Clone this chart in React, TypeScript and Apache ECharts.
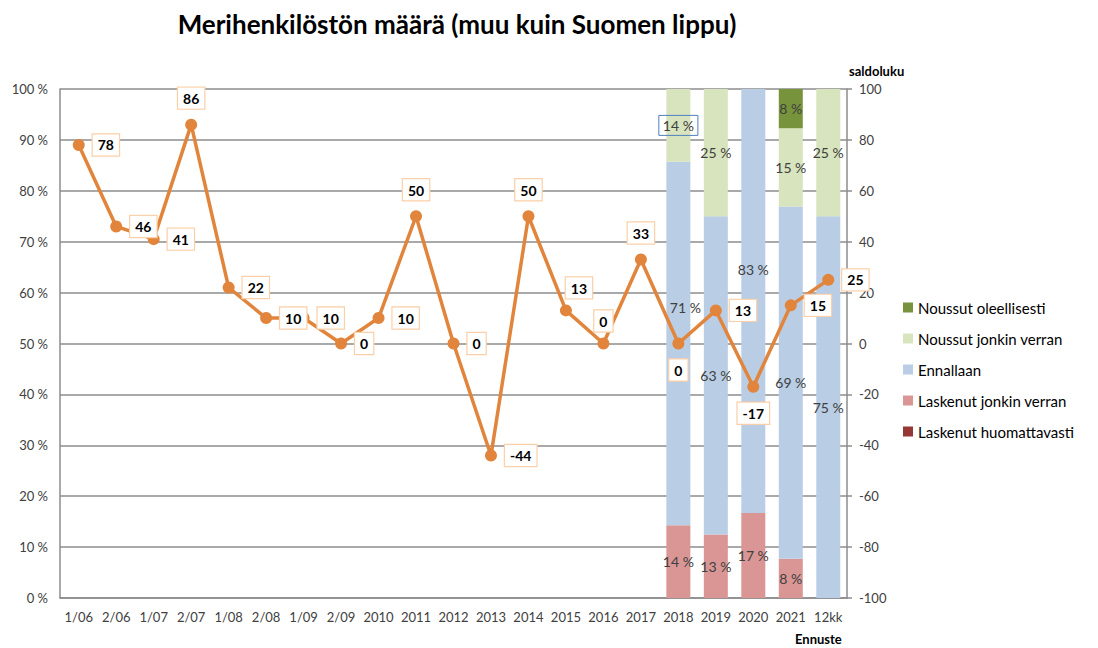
import React, { useEffect, useRef } from "react";
import * as echarts from "echarts";

const categories = ["1/06", "2/06", "1/07", "2/07", "1/08", "2/08", "1/09", "2/09", "2010", "2011", "2012", "2013", "2014", "2015", "2016", "2017", "2018", "2019", "2020", "2021", "12kk"];
const saldo = [78, 46, 41, 86, 22, 10, 10, 0, 10, 50, 0, -44, 50, 13, 0, 33, 0, 13, -17, 15, 25];
const saldoLabelPos = ["right", "right", "right", "top", "right", "right", "right", "right", "right", "top", "right", "right", "top", "top", "top", "top", "bottom", "right", "bottom", "right", "right"];
const pad = 16;
const nulls = (n: number) => Array(n).fill(null);
const laskenutHuom = [...nulls(pad), 0, 0, 0, 0, 0];
const laskenutJonkin = [...nulls(pad), 14.3, 12.5, 16.7, 7.7, 0];
const ennallaan = [...nulls(pad), 71.4, 62.5, 83.3, 69.2, 75];
const noussutJonkin = [...nulls(pad), 14.3, 25, 0, 15.4, 25];
const noussutOleel = [...nulls(pad), 0, 0, 0, 7.7, 0];
const leftTicks = { min: 0, max: 100, interval: 10 };
const rightTicks = { min: -100, max: 100, interval: 20 };

const FONT = "Lato, 'Open Sans', sans-serif";

export default function App() {
  const ref = useRef<HTMLDivElement>(null);
  useEffect(() => {
    if (!ref.current) return;
    const chart = echarts.init(ref.current, undefined, { renderer: "svg" });
    const barLabel = {
      show: true,
      position: "inside",
      color: "#404040",
      fontSize: 14,
      fontFamily: FONT,
      formatter: (p: any) => (p.value && p.value > 0 ? Math.round(p.value) + " %" : ""),
    };
    const mkBar = (name: string, data: (number | null)[], color: string, extra?: (v: any, i: number) => any) => ({
      name,
      type: "bar",
      stack: "s",
      yAxisIndex: 0,
      barWidth: 24,
      itemStyle: { color },
      label: barLabel,
      data: data.map((v, i) => (extra ? extra(v, i) : v)),
    });
    chart.setOption({
      animation: false,
      textStyle: { fontFamily: FONT },
      title: {
        text: "Merihenkilöstön määrä (muu kuin Suomen lippu)",
        left: 452,
        textAlign: "center",
        top: 6,
        textStyle: { fontSize: 26, fontWeight: "bold", color: "#000", fontFamily: FONT },
      },
      grid: { left: 60, right: 251, top: 89, bottom: 50 },
      legend: {
        orient: "vertical",
        left: 898,
        top: 295,
        itemWidth: 10,
        itemHeight: 10,
        itemGap: 16,
        icon: "rect",
        textStyle: { fontSize: 15, color: "#000", fontFamily: FONT },
        data: ["Noussut oleellisesti", "Noussut jonkin verran", "Ennallaan", "Laskenut jonkin verran", "Laskenut huomattavasti"],
      },
      xAxis: {
        type: "category",
        data: categories,
        axisLine: { lineStyle: { color: "#8c8c8c", width: 1.5 } },
        axisTick: { show: false },
        axisLabel: { color: "#404040", fontSize: 13, margin: 12, interval: 0, fontFamily: FONT },
      },
      yAxis: [
        {
          type: "value",
          ...leftTicks,
          axisLine: { show: true, lineStyle: { color: "#8c8c8c", width: 1.5 } },
          axisTick: { show: false },
          splitLine: { lineStyle: { color: "#8c8c8c", width: 1.5 } },
          axisLabel: { formatter: "{value} %", color: "#404040", fontSize: 13, margin: 12, fontFamily: FONT },
        },
        {
          type: "value",
          ...rightTicks,
          position: "right",
          name: "saldoluku",
          nameLocation: "end",
          nameGap: 12,
          nameTextStyle: { fontWeight: "bold", color: "#000", fontSize: 13, align: "left", padding: [0, 0, 0, 2], fontFamily: FONT },
          axisLine: { show: true, lineStyle: { color: "#8c8c8c", width: 1.5 } },
          axisTick: { show: true, length: 5, lineStyle: { color: "#8c8c8c", width: 1.5 } },
          splitLine: { show: false },
          axisLabel: { color: "#404040", fontSize: 13, margin: 12, fontFamily: FONT },
        },
      ],
      graphic: [
        {
          type: "text",
          left: 795,
          top: 632,
          style: { text: "Ennuste", fontSize: 13, fontWeight: "bold", fill: "#000", fontFamily: FONT },
        },
      ],
      series: [
        mkBar("Laskenut huomattavasti", laskenutHuom, "#953735"),
        mkBar("Laskenut jonkin verran", laskenutJonkin, "#d99694"),
        mkBar("Ennallaan", ennallaan, "#b9cde5", (v, i) => {
          if (i === 16) return { value: v, label: { offset: [7, -36] } };
          if (i === 18) return { value: v, label: { offset: [0, -31] } };
          return v;
        }),
        mkBar("Noussut jonkin verran", noussutJonkin, "#d7e4bd", (v, i) => {
          if (i === 16) return { value: v, label: { borderColor: "#4f81bd", borderWidth: 1, padding: [3, 4] } };
          return v;
        }),
        mkBar("Noussut oleellisesti", noussutOleel, "#77933c"),
        {
          name: "saldoluku",
          type: "line",
          yAxisIndex: 1,
          z: 5,
          symbol: "circle",
          symbolSize: 12,
          lineStyle: { color: "#e2853c", width: 3.5 },
          itemStyle: { color: "#e2853c" },
          data: saldo.map((v, i) => ({
            value: v,
            label: {
              position: saldoLabelPos[i],
              distance: i === 14 ? 6 : saldoLabelPos[i] === "right" ? 8 : 10,
              offset: i === 13 ? [13, 4] : [0, 0],
            },
          })),
          label: {
            show: true,
            color: "#000",
            fontWeight: "bold",
            fontSize: 14,
            fontFamily: FONT,
            backgroundColor: "#fff",
            borderColor: "#fbcfa8",
            borderWidth: 1.2,
            padding: [4, 5, 3, 5],
          },
        },
      ],
    });
    return () => chart.dispose();
  }, []);
  return <div ref={ref} style={{ width: 1098, height: 648, position: "absolute", left: 0, top: 0 }} />;
}
